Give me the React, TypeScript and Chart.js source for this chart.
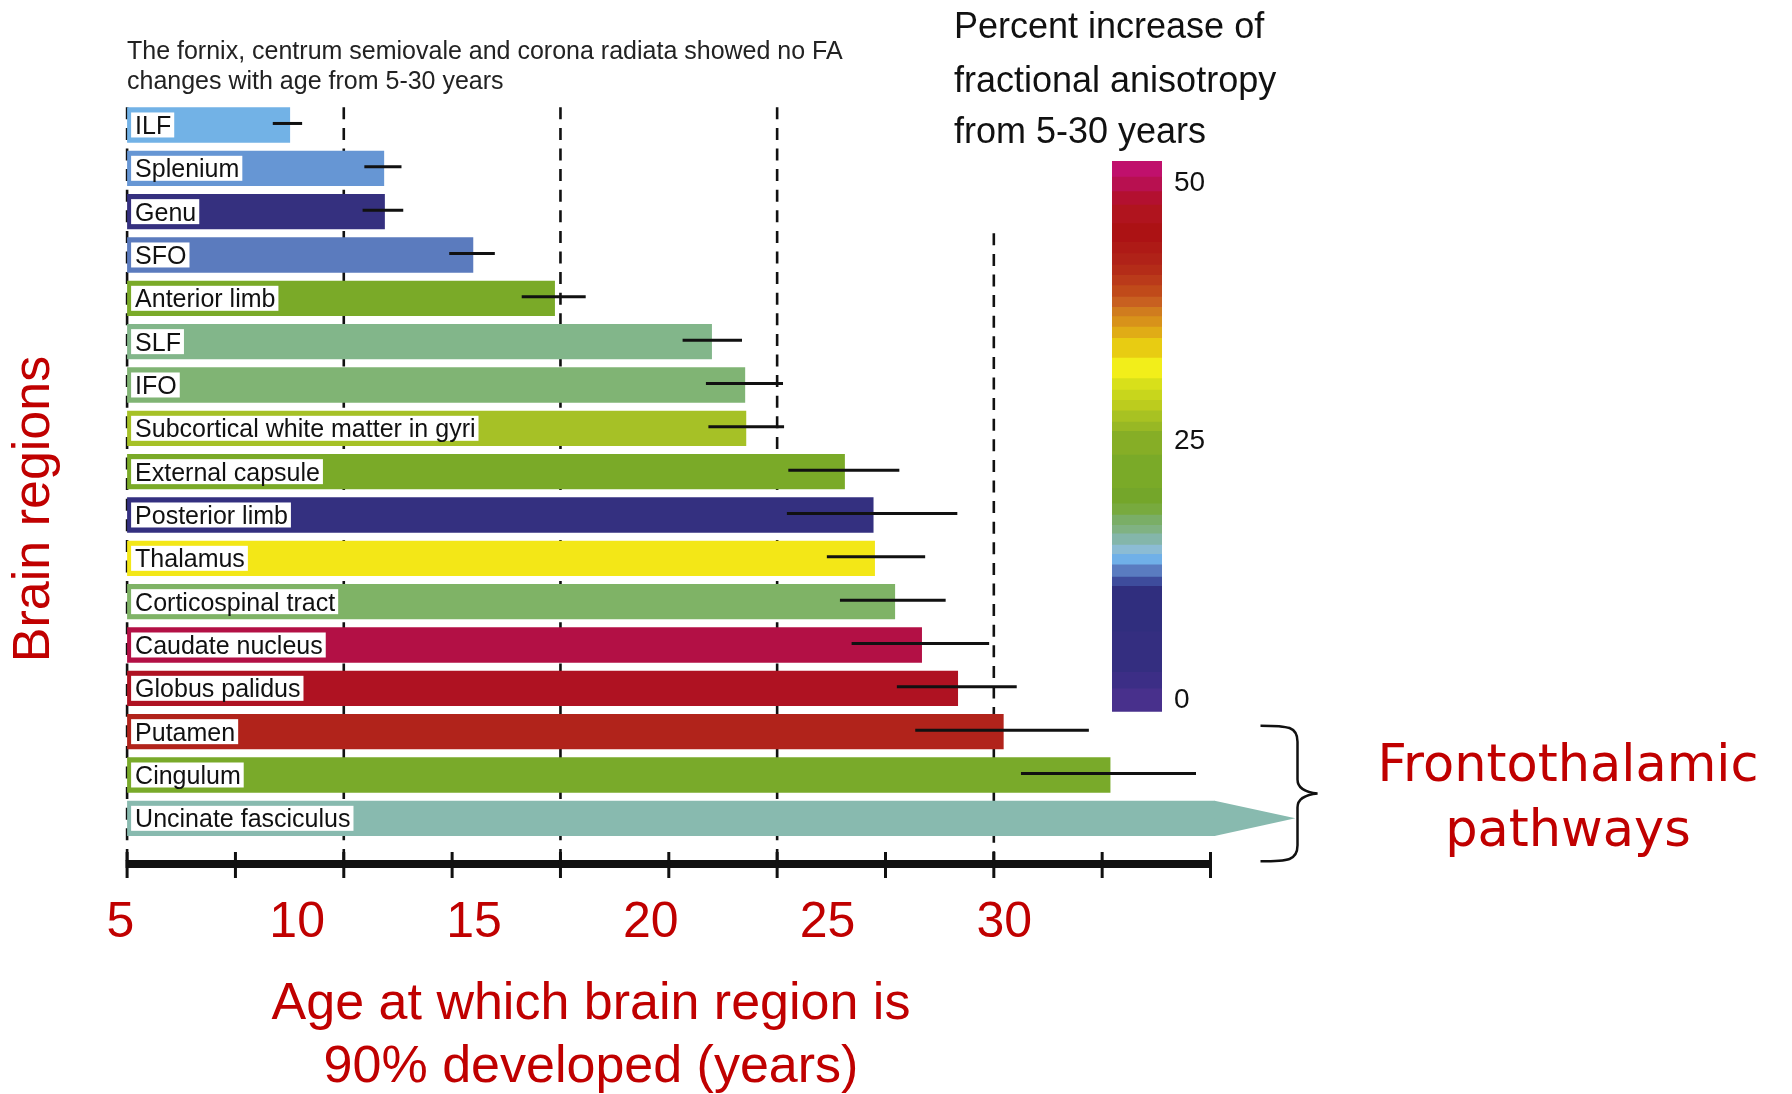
import React, { useEffect, useRef } from 'react';
import { Chart, registerables } from 'chart.js';

Chart.register(...registerables);
Chart.defaults.font.family = '"Liberation Sans", Arial, sans-serif';

// ---------- data ----------
const REGIONS = [
  'ILF',
  'Splenium',
  'Genu',
  'SFO',
  'Anterior limb',
  'SLF',
  'IFO',
  'Subcortical white matter in gyri',
  'External capsule',
  'Posterior limb',
  'Thalamus',
  'Corticospinal tract',
  'Caudate nucleus',
  'Globus palidus',
  'Putamen',
  'Cingulum',
  'Uncinate fasciculus',
];
// age (years) at which region is 90% developed
const AGE_90 = [9.8, 12.46, 12.48, 14.98, 17.29, 21.73, 22.67, 22.7, 25.49, 26.3, 26.34, 26.91, 27.67, 28.69, 29.98, 33.0, 35.96];
const ERR_LOW = [9.31, 11.9, 11.85, 14.3, 16.35, 20.9, 21.56, 21.63, 23.89, 23.85, 24.98, 25.35, 25.68, 26.96, 27.48, 30.47, null];
const ERR_HIGH = [10.14, 12.95, 13.0, 15.59, 18.16, 22.58, 23.74, 23.77, 27.03, 28.67, 27.76, 28.34, 29.57, 30.35, 32.39, 35.42, null];
const BAR_COLORS = [
  '#72B2E6', '#6696D4', '#35307F', '#5B7BBE', '#7AAA28', '#82B68A', '#80B474', '#A6C126',
  '#7AAA28', '#343080', '#F3E717', '#7FB366', '#B31045', '#AF1222', '#B1231B', '#79AA2A', '#88BAAF',
];
const UNCINATE_ARROW_TIP = 38.23;

const AGE_TICKS = [5, 10, 15, 20, 25, 30];
const AGE_MIN = 5.19;
const AGE_MAX = 35.83;
const AXIS_STEPS = [0, 1, 2, 3, 4, 5, 6, 7, 8, 9, 10];
const DASHED_STEPS = [0, 2, 4, 6, 8];

// colour bar: percent increase of FA
const BAND_EDGES = [
  -1.12, 1.1, 2.7, 6.6, 11.0, 11.9, 13.1, 14.1, 15.0, 16.1, 16.9, 17.9, 19.0, 20.5, 23.7, 26.0, 26.9, 28.0,
  29.0, 30.0, 31.1, 33.1, 35.0, 36.1, 37.1, 38.0, 39.0, 40.1, 41.1, 42.1, 43.2, 44.3, 46.1, 47.9, 49.2, 50.6, 52.16,
];
const BAND_COLORS = [
  '#48308C', '#3C2E86', '#342E80', '#302E7E', '#3E4C9C', '#5A7CC0', '#70B0E8', '#8CBCD4', '#84B6AA',
  '#80B282', '#7AAE66', '#78AA3E', '#74A62A', '#7AAA28', '#86AE26', '#98B824', '#A8C222', '#BCCC1E',
  '#C8D61C', '#D8E01A', '#F2EE1A', '#E8CC12', '#E0AC16', '#D8921A', '#D07C1E', '#C86020', '#C04A1A',
  '#BA3A1A', '#B42C18', '#B02218', '#AE1A16', '#AC1214', '#B0141E', '#B31030', '#B81050', '#C0106C',
];
const COLORBAR_TICKS = [0, 25, 50];

const RED = '#C00000';
const FONT = '"Liberation Sans", Arial, sans-serif';

const overlay = {
  id: 'overlay',
  beforeDatasetsDraw(chart: any) {
    const { ctx, chartArea, scales } = chart;
    const st = scales.xSteps;
    const ys = scales.y;
    const axisY = chartArea.bottom + 24;
    ctx.save();
    ctx.strokeStyle = '#111';
    ctx.lineWidth = 2.6;
    ctx.setLineDash([12, 8.6]);
    DASHED_STEPS.forEach((s) => {
      const x = st.getPixelForValue(s);
      const y0 = s === 8 ? ys.getPixelForValue(2.5) : chartArea.top + 4;
      ctx.beginPath();
      ctx.moveTo(x, y0);
      ctx.lineTo(x, axisY);
      ctx.stroke();
    });
    ctx.restore();
  },
  afterDatasetsDraw(chart: any) {
    const { ctx, chartArea, scales } = chart;
    const xs = scales.x;
    const st = scales.xSteps;
    const ys = scales.y;
    const meta = chart.getDatasetMeta(0);
    ctx.save();
    // open-ended arrow on last bar
    const li = REGIONS.length - 1;
    const last = meta.data[li];
    const tip = xs.getPixelForValue(UNCINATE_ARROW_TIP);
    ctx.fillStyle = BAR_COLORS[li];
    ctx.beginPath();
    ctx.moveTo(last.x - 0.5, last.y - last.height / 2);
    ctx.lineTo(tip, last.y);
    ctx.lineTo(last.x - 0.5, last.y + last.height / 2);
    ctx.closePath();
    ctx.fill();

    // error bars
    ctx.strokeStyle = '#111';
    ctx.lineWidth = 3;
    REGIONS.forEach((_, i) => {
      const lo = ERR_LOW[i];
      const hi = ERR_HIGH[i];
      if (lo == null || hi == null) return;
      const y = meta.data[i].y - 1.5;
      ctx.beginPath();
      ctx.moveTo(xs.getPixelForValue(lo), y);
      ctx.lineTo(xs.getPixelForValue(hi), y);
      ctx.stroke();
    });

    // region labels in white boxes
    ctx.font = `25px ${FONT}`;
    ctx.textBaseline = 'middle';
    ctx.textAlign = 'left';
    REGIONS.forEach((name, i) => {
      const y = ys.getPixelForValue(i);
      const w = ctx.measureText(name).width;
      ctx.fillStyle = '#fff';
      ctx.fillRect(chartArea.left + 4, y - 12.5, w + 7, 25);
      ctx.fillStyle = '#111';
      ctx.fillText(name, chartArea.left + 8, y + 2);
    });

    // black axis with ticks
    const axisY = chartArea.bottom + 24;
    const x0 = st.getPixelForValue(AXIS_STEPS[0]);
    const x1 = st.getPixelForValue(AXIS_STEPS[AXIS_STEPS.length - 1]);
    ctx.fillStyle = '#111';
    ctx.fillRect(x0 - 1.5, axisY - 4, x1 - x0 + 3, 8);
    ctx.lineWidth = 3;
    AXIS_STEPS.forEach((s) => {
      const x = st.getPixelForValue(s);
      ctx.beginPath();
      ctx.moveTo(x, axisY - 12);
      ctx.lineTo(x, axisY + 14);
      ctx.stroke();
    });
    ctx.restore();
  },
  afterDraw(chart: any) {
    const { ctx, chartArea, scales } = chart;
    const ys = scales.y;
    ctx.save();
    // note at top
    ctx.fillStyle = '#222';
    ctx.font = `25px ${FONT}`;
    ctx.textAlign = 'left';
    ctx.textBaseline = 'middle';
    ctx.fillText('The fornix, centrum semiovale and corona radiata showed no FA', 127, 52);
    ctx.fillText('changes with age from 5-30 years', 127, 82);

    // colour bar title
    ctx.fillStyle = '#111';
    ctx.font = `36px ${FONT}`;
    ctx.fillText('Percent increase of', 954, 28);
    ctx.fillText('fractional anisotropy', 954, 82);
    ctx.fillText('from 5-30 years', 954, 133);

    // x title
    ctx.fillStyle = RED;
    ctx.font = `52px ${FONT}`;
    ctx.textAlign = 'center';
    ctx.fillText('Age at which brain region is', 591, 1005);
    ctx.fillText('90% developed (years)', 591, 1068);

    // y title
    ctx.save();
    ctx.translate(35, 509);
    ctx.rotate(-Math.PI / 2);
    ctx.fillText('Brain regions', 0, 0);
    ctx.restore();

    // brace
    const T = ys.getPixelForValue(14) - 6;
    const B = ys.getPixelForValue(16) + 43;
    const M = (T + B) / 2;
    const L = chartArea.right + 50;
    const C = chartArea.right + 87;
    const P = chartArea.right + 107;
    ctx.strokeStyle = '#111';
    ctx.lineWidth = 2.5;
    ctx.beginPath();
    ctx.moveTo(L, T);
    ctx.bezierCurveTo(L + 28, T, C, T + 1, C, T + 16);
    ctx.lineTo(C, M - 14);
    ctx.quadraticCurveTo(C, M - 2, P, M);
    ctx.quadraticCurveTo(C, M + 2, C, M + 14);
    ctx.lineTo(C, B - 16);
    ctx.bezierCurveTo(C, B - 1, L + 28, B, L, B);
    ctx.stroke();

    ctx.fillStyle = RED;
    ctx.font = '51px "DejaVu Sans", Verdana, sans-serif';
    ctx.textAlign = 'center';
    ctx.fillText('Frontothalamic', 1568, 768);
    ctx.fillText('pathways', 1568, 833);
    ctx.restore();
  },
};

export default function App() {
  const mainRef = useRef<HTMLCanvasElement | null>(null);
  const barRef = useRef<HTMLCanvasElement | null>(null);

  useEffect(() => {
    const main = new Chart(mainRef.current as HTMLCanvasElement, {
      type: 'bar',
      data: {
        labels: REGIONS,
        datasets: [
          {
            data: AGE_90,
            backgroundColor: BAR_COLORS,
            borderWidth: 0,
            barPercentage: 0.815,
            categoryPercentage: 1,
            clip: { left: 0, top: 10, right: 120, bottom: 10 } as any,
            xAxisID: 'x',
            yAxisID: 'y',
          },
        ],
      },
      options: {
        indexAxis: 'y',
        animation: false,
        responsive: false,
        devicePixelRatio: 1,
        layout: { padding: { left: 127.1, right: 581.5, top: 103.3, bottom: 154 } },
        plugins: { legend: { display: false }, tooltip: { enabled: false }, title: { display: false } },
        scales: {
          x: {
            type: 'linear',
            position: 'bottom',
            min: AGE_MIN,
            max: AGE_MAX,
            afterBuildTicks: (s: any) => {
              s.ticks = AGE_TICKS.map((v) => ({ value: v }));
            },
            afterFit: (s: any) => {
              s.height = 100;
            },
            grid: { display: false, drawTicks: false },
            border: { display: false },
            ticks: {
              autoSkip: false,
              maxRotation: 0,
              padding: 53,
              color: RED,
              font: { size: 50, family: FONT },
              callback: (v: any) => String(v),
            },
          },
          xSteps: {
            type: 'linear',
            axis: 'x',
            position: 'bottom',
            display: false,
            min: AXIS_STEPS[0],
            max: AXIS_STEPS[AXIS_STEPS.length - 1],
          },
          y: {
            type: 'category',
            display: false,
            offset: true,
            grid: { display: false },
          },
        } as any,
      },
      plugins: [overlay],
    });

    const bar = new Chart(barRef.current as HTMLCanvasElement, {
      type: 'bar',
      data: {
        labels: [''],
        datasets: BAND_COLORS.map((c, i) => ({
          data: [[BAND_EDGES[i], BAND_EDGES[i + 1]]] as any,
          backgroundColor: c,
          borderWidth: 0,
          barPercentage: 1,
          categoryPercentage: 1,
          grouped: false,
        })),
      },
      options: {
        animation: false,
        responsive: false,
        devicePixelRatio: 1,
        layout: { padding: { top: 40, bottom: 39.3, left: 0, right: 0 } },
        plugins: { legend: { display: false }, tooltip: { enabled: false } },
        scales: {
          x: { display: false },
          y: {
            type: 'linear',
            position: 'right',
            min: BAND_EDGES[0],
            max: BAND_EDGES[BAND_EDGES.length - 1],
            afterBuildTicks: (s: any) => {
              s.ticks = COLORBAR_TICKS.map((v) => ({ value: v }));
            },
            afterFit: (s: any) => {
              s.width = 60;
            },
            grid: { display: false, drawTicks: false },
            border: { display: false },
            ticks: { padding: 12, color: '#111', font: { size: 28, family: FONT } },
          },
        } as any,
      },
    });

    return () => {
      main.destroy();
      bar.destroy();
    };
  }, []);

  return (
    <div
      style={{
        position: 'absolute',
        left: 0,
        top: 0,
        width: 1792,
        height: 1094,
        overflow: 'hidden',
        background: '#fff',
      }}
    >
      <canvas ref={mainRef} width={1792} height={1094} style={{ position: 'absolute', left: 0, top: 0, width: 1792, height: 1094 }} />
      <canvas ref={barRef} width={110} height={630} style={{ position: 'absolute', left: 1112, top: 121, width: 110, height: 630 }} />
    </div>
  );
}
